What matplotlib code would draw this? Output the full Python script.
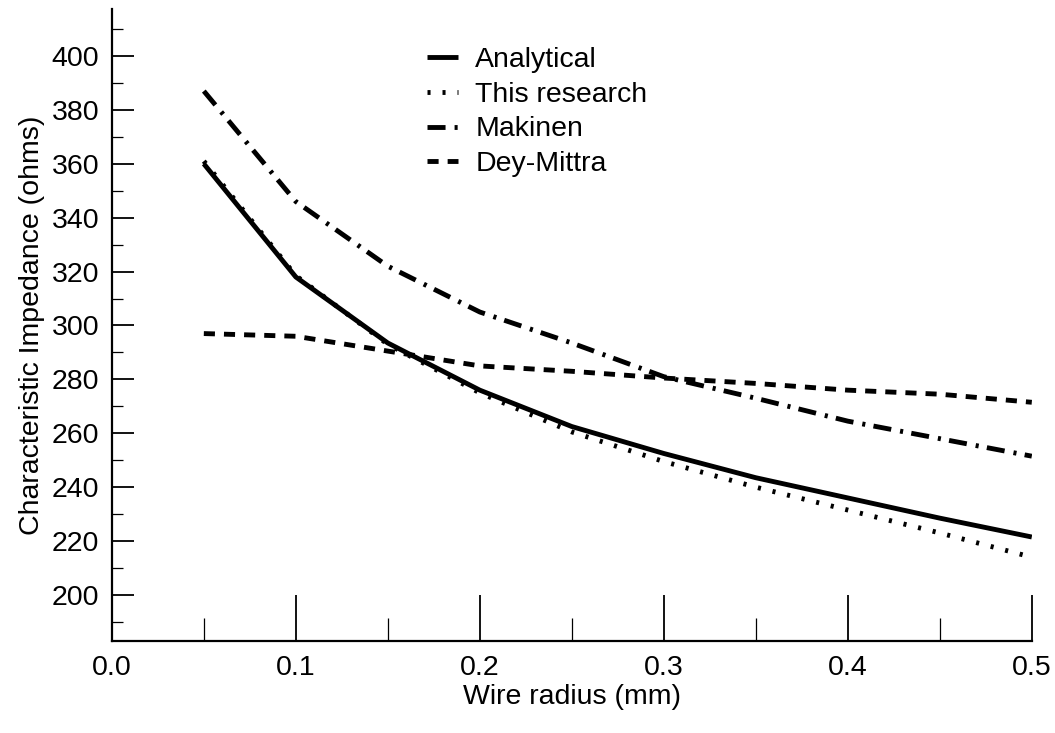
import matplotlib
matplotlib.use("Agg")
import matplotlib.pyplot as plt

plt.rcParams['font.family'] = ['Liberation Sans', 'DejaVu Sans']
plt.rcParams['lines.scale_dashes'] = False

wire_radius = [0.05, 0.10, 0.15, 0.20, 0.25, 0.30, 0.35, 0.40, 0.45, 0.50]
analytical = [360, 318, 293.5, 276, 262.5, 252.5, 243.5, 236, 228.5, 221.5]
this_research = [361, 318.5, 293, 275, 260.5, 249.5, 240, 231.5, 223, 214]
makinen = [387, 346, 322, 305, 293.5, 281, 273, 264.5, 258, 251.5]
dey_mittra = [297, 296, 290.5, 285, 283, 280.5, 278.5, 276, 274.5, 271.5]

x_major = [0.0, 0.1, 0.2, 0.3, 0.4, 0.5]
x_labels = ['0.0', '0.1', '0.2', '0.3', '0.4', '0.5']
x_minor = [0.05, 0.15, 0.25, 0.35, 0.45]
y_major = [200, 220, 240, 260, 280, 300, 320, 340, 360, 380, 400]
y_minor = [190, 210, 230, 250, 270, 290, 310, 330, 350, 370, 390, 410]

fig = plt.figure(figsize=(10.55, 7.33), dpi=100)
ax = fig.add_axes([0.106, 0.1255, 0.872, 0.862])

lw = 3.5
ax.plot(wire_radius, analytical, color='black', lw=lw, solid_capstyle='butt', label='Analytical')
ax.plot(wire_radius, this_research, color='black', lw=lw, dashes=(2.2, 8.6), dash_capstyle='butt', label='This research')
ax.plot(wire_radius, makinen, color='black', lw=lw, dashes=(13, 6.5, 2.2, 6), dash_capstyle='butt', label='Makinen')
ax.plot(wire_radius, dey_mittra, color='black', lw=lw, dashes=(8, 6.5), dash_capstyle='butt', label='Dey-Mittra')

ax.set_xlim(0.0, 0.5)
ax.set_ylim(182.9, 417.4)
ax.set_xticks(x_major)
ax.set_xticklabels(x_labels)
ax.set_xticks(x_minor, minor=True)
ax.set_yticks(y_major)
ax.set_yticks(y_minor, minor=True)

for s in ['top', 'right']:
    ax.spines[s].set_visible(False)
for s in ['left', 'bottom']:
    ax.spines[s].set_linewidth(1.6)

fs = 20.5
ax.tick_params(axis='y', which='major', direction='in', length=15.8, width=1.3, labelsize=fs, pad=9)
ax.tick_params(axis='y', which='minor', direction='in', length=7.9, width=0.9)
ax.tick_params(axis='x', which='major', direction='in', length=33, width=1.3, labelsize=fs, pad=10)
ax.tick_params(axis='x', which='minor', direction='in', length=16.6, width=0.9)

ax.set_xlabel('Wire radius (mm)', fontsize=fs, labelpad=2)
ax.set_ylabel('Characteristic Impedance (ohms)', fontsize=fs, labelpad=5)

leg = ax.legend(loc='upper left', bbox_to_anchor=(0.327, 0.962), frameon=False, fontsize=fs,
                handlelength=1.1, handletextpad=0.6, labelspacing=0.3, borderpad=0)

fig.savefig('out.png', dpi=100)
